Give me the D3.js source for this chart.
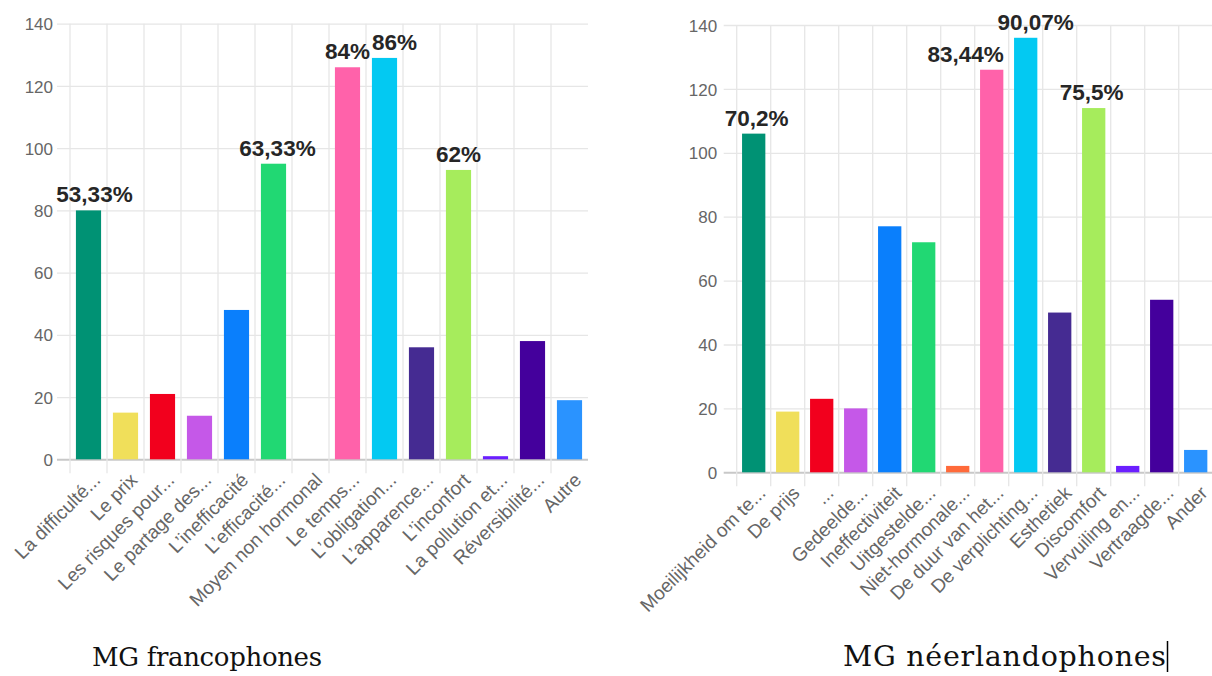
<!DOCTYPE html>
<html>
<head>
<meta charset="utf-8">
<script src="https://cdn.jsdelivr.net/npm/d3@7"></script>
<style>
  html, body { margin: 0; padding: 0; background: #fff; }
  svg { display: block; }
  .tick-label { font-family: "Liberation Sans", Arial, sans-serif; fill: #666; }
  .pct { font-family: "Liberation Sans", Arial, sans-serif; font-weight: bold; fill: #262626; }
  .title { font-family: "DejaVu Serif", serif; fill: #111; }
</style>
</head>
<body>
<svg id="chart" width="1212" height="676"></svg>
<script>
// ---- Francophone GPs ----
const frCategories = ["La difficulté...", "Le prix", "Les risques pour...", "Le partage des...",
  "L’inefficacité", "L’efficacité...", "Moyen non hormonal", "Le temps...", "L’obligation...",
  "L’apparence...", "L’inconfort", "La pollution et...", "Réversibilité...", "Autre"];
const frValues = [80, 15, 21, 14, 48, 95, 0, 126, 129, 36, 93, 1, 38, 19];
const frPercent = ["53,33%", null, null, null, null, "63,33%", null, "84%", "86%", null, "62%", null, null, null];

// ---- Dutch-speaking GPs ----
const nlCategories = ["Moeilijkheid om te...", "De prijs", "...", "Gedeelde...", "Ineffectiviteit",
  "Uitgestelde...", "Niet-hormonale...", "De duur van het...", "De verplichting...", "Esthetiek",
  "Discomfort", "Vervuiling en...", "Vertraagde...", "Ander"];
const nlValues = [106, 19, 23, 20, 77, 72, 2, 126, 136, 50, 114, 2, 54, 7];
const nlPercent = ["70,2%", null, null, null, null, null, null, "83,44%", "90,07%", null, "75,5%", null, null, null];

const yTicks = [0, 20, 40, 60, 80, 100, 120, 140];
const titles = ["MG francophones", "MG néerlandophones"];

// one colour per answer, shared by both panels
const barColors = ["#009274", "#f0df5a", "#f2001d", "#c558e8", "#0a7ffc", "#21d873", "#ff6a3a",
  "#ff62aa", "#03c9f2", "#452b92", "#a6ec5c", "#6b1fff", "#44009c", "#2a93ff"];

const svg = d3.select("#chart");

function drawPanel(cfg) {
  const g = svg.append("g");
  const x = d3.scaleBand()
    .domain(cfg.categories)
    .range([cfg.left, cfg.right])
    .paddingInner(cfg.pad)
    .paddingOuter(cfg.pad / 2);
  const y = d3.scaleLinear().domain([0, 140]).range([cfg.bottom, cfg.top]);
  const step = x.step();

  // horizontal grid + y labels
  const yAxis = d3.axisLeft(y).tickValues(yTicks)
    .tickSizeInner(-(cfg.right - cfg.left)).tickSizeOuter(0).tickPadding(0);
  const ya = g.append("g").attr("transform", `translate(${cfg.left},0)`).call(yAxis);
  ya.select(".domain").remove();
  ya.selectAll(".tick line")
    .attr("x1", -13)
    .attr("stroke", d => d === 0 ? "#c8c8c8" : "#e6e6e6")
    .attr("stroke-width", d => d === 0 ? 2 : 1.3);
  ya.selectAll(".tick text")
    .attr("class", "tick-label")
    .attr("x", -cfg.labelGap)
    .attr("dy", "0.36em")
    .style("font-size", "17px");

  // vertical grid at category boundaries
  g.append("g").selectAll("line")
    .data(d3.range(cfg.categories.length))
    .join("line")
    .attr("x1", i => cfg.left + i * step)
    .attr("x2", i => cfg.left + i * step)
    .attr("y1", cfg.top)
    .attr("y2", cfg.bottom + 14)
    .attr("stroke", "#e6e6e6")
    .attr("stroke-width", 1.3);

  // x labels, rotated
  const xAxis = d3.axisBottom(x).tickSize(0).tickPadding(0);
  const xa = g.append("g").attr("transform", `translate(0,${cfg.bottom})`).call(xAxis);
  xa.select(".domain").remove();
  xa.selectAll(".tick text")
    .attr("class", "tick-label")
    .style("font-size", "19px")
    .attr("text-anchor", "end")
    .attr("y", 0).attr("dy", 0)
    .attr("transform", "translate(13,22) rotate(-45)");

  // bars
  g.append("g").selectAll("rect")
    .data(cfg.values)
    .join("rect")
    .attr("x", (d, i) => x(cfg.categories[i]))
    .attr("width", x.bandwidth())
    .attr("y", d => y(d))
    .attr("height", d => y(0) - y(d))
    .attr("fill", (d, i) => barColors[i]);

  // percentage annotations
  g.append("g").selectAll("text")
    .data(cfg.values.map((v, i) => ({ v, i, t: cfg.percent[i] })).filter(d => d.t))
    .join("text")
    .attr("class", "pct")
    .style("font-size", "22.5px")
    .attr("text-anchor", "middle")
    .attr("x", d => x(cfg.categories[d.i]) + x.bandwidth() / 2 + (cfg.nudge[d.i] || 0))
    .attr("y", d => y(d.v) - 8)
    .text(d => d.t);

  // panel caption
  svg.append("text")
    .attr("class", "title")
    .attr("x", cfg.titleX)
    .attr("y", 666)
    .attr("textLength", cfg.titleW)
    .attr("lengthAdjust", "spacing")
    .style("font-size", cfg.titleSize + "px")
    .text(cfg.title);
}

drawPanel({
  categories: frCategories, values: frValues, percent: frPercent,
  left: 70, right: 588, top: 23.7, bottom: 459.3, pad: 0.32, labelGap: 17,
  nudge: { 0: 6, 5: 4, 8: 10 },
  title: titles[0], titleX: 92, titleW: 230, titleSize: 26
});

drawPanel({
  categories: nlCategories, values: nlValues, percent: nlPercent,
  left: 736.7, right: 1212.7, top: 25, bottom: 472.3, pad: 0.315, labelGap: 19.5,
  nudge: { 0: 3, 7: -26, 8: 10, 10: -2 },
  title: titles[1], titleX: 843, titleW: 323, titleSize: 28.5
});

// text cursor after the second caption
svg.append("line")
  .attr("x1", 1167.5).attr("x2", 1167.5)
  .attr("y1", 641).attr("y2", 672)
  .attr("stroke", "#000").attr("stroke-width", 1.5);
</script>
</body>
</html>
